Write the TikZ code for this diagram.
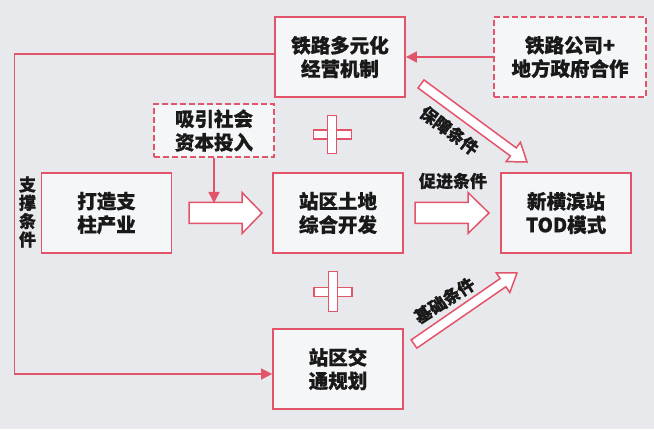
\documentclass[tikz,border=0pt]{standalone}
\usepackage{fontspec}
\setmainfont{Noto Sans CJK SC}[BoldFeatures={FakeBold=0.8}]
\usetikzlibrary{calc,arrows.meta}
\definecolor{bg}{RGB}{232,233,237}
\definecolor{rd}{RGB}{226,84,106}
\definecolor{bx}{RGB}{245,246,248}
\definecolor{tx}{RGB}{25,25,25}
\newcommand\blockarr[6]{%
  \coordinate (#6) at ($(#2)!#5!(#1)$);
  \draw[barrow] ($(#1)!#3!90:(#2)$) -- ($(#6)!#3!90:(#2)$) -- ($(#6)!#4!90:(#2)$) -- (#2)
    -- ($(#6)!#4!-90:(#2)$) -- ($(#6)!#3!-90:(#2)$) -- ($(#1)!#3!-90:(#2)$) -- cycle;}
\begin{document}
\begin{tikzpicture}[x=1pt,y=1pt,
  box/.style={draw=rd, line width=1.8pt, fill=bx, minimum width=130pt, minimum height=80pt,
    inner sep=0pt, align=center, font=\fontsize{19.5}{23.5}\selectfont\bfseries, text=tx},
  dbox/.style={box, dash pattern=on 6pt off 3pt},
  lab/.style={font=\fontsize{17}{18}\selectfont\bfseries, text=tx, inner sep=0pt},
  conn/.style={draw=rd, line width=1.5pt},
  arrtip/.style={-{Triangle[length=11pt,width=11pt]}},
  barrow/.style={draw=rd, line width=1.5pt, fill=white, line join=miter},
  hbar/.style={draw=rd, line width=1.5pt, fill=white, minimum width=38pt, minimum height=9pt, inner sep=0pt},
  vbar/.style={draw=rd, line width=1.5pt, fill=white, minimum width=9pt, minimum height=38pt, inner sep=0pt}
]
\fill[bg] (0,0) rectangle (654,429);
\useasboundingbox (0,0) rectangle (654,429);

% boxes
\node[box] (mech) at (340,372) {铁路多元化\\经营机制};
\node[dbox, minimum width=152pt] (coop) at (570,372) {铁路公司+\\地方政府合作};
\node[dbox, minimum width=120pt, minimum height=53pt] (inv) at (214,298.5) {吸引社会\\资本投入};
\node[box] (ind) at (106.5,216) {打造支\\柱产业};
\node[box] (land) at (338,216) {站区土地\\综合开发};
\node[box] (tod) at (566,216) {新横滨站\\TOD模式};
\node[box] (trans) at (338,60) {站区交\\通规划};

% thin connectors
\coordinate (lb) at (14.5,55);
\draw[conn, arrtip] ([yshift=3pt]mech.west) -| (lb) -- ([yshift=-5pt]trans.west);
\draw[conn, arrtip] (coop.west) -- (mech.east);
\coordinate (invend) at (214,226);
\draw[conn, arrtip] (inv.south) -- (invend);

% block arrows
\coordinate (a1s) at (189,216); \coordinate (a1e) at (262,216);
\blockarr{a1s}{a1e}{10.5pt}{20.5pt}{20pt}{a1n}
\coordinate (a2s) at (415,216); \coordinate (a2e) at (489,216);
\blockarr{a2s}{a2e}{10.5pt}{20.5pt}{21pt}{a2n}
\coordinate (a3s) at (421,345); \coordinate (a3e) at (527,267);
\blockarr{a3s}{a3e}{5pt}{12pt}{17pt}{a3n}
\coordinate (a4s) at (414,85); \coordinate (a4e) at (517,156);
\blockarr{a4s}{a4e}{5pt}{12pt}{17pt}{a4n}

% plus signs
\node[hbar] (p1h) at (332.5,294.5) {};
\node[vbar] (p1v) at (332,294.5) {};
\node[hbar] (p2h) at (333,137) {};
\node[vbar, minimum height=40pt] (p2v) at (333,137.5) {};

% labels
\node[lab] (lcj) at (453,248) {促进条件};
\node[lab, rotate=-37] (lbz) at (449.5,298.5) {保障条件};
\node[lab, rotate=33] (ljc) at (444.5,128.5) {基础条件};
\node[lab, align=center, font=\fontsize{17}{18.3}\selectfont\bfseries] (lzc) at (27.5,217) {支\\撑\\条\\件};
\end{tikzpicture}
\end{document}
